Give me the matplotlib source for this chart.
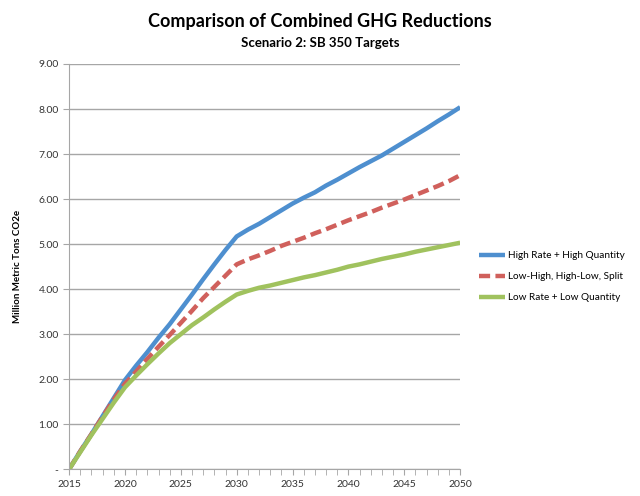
import matplotlib.pyplot as plt
import numpy as np

plt.rcParams['font.family'] = ['Lato', 'DejaVu Sans']

years = list(range(2015, 2051))

high_high = [0, 0.40, 0.78, 1.18, 1.58, 1.98, 2.30, 2.60, 2.92, 3.22, 3.55, 3.88,
             4.22, 4.55, 4.87, 5.17, 5.32, 5.45, 5.60, 5.75, 5.90, 6.03, 6.15,
             6.30, 6.43, 6.57, 6.71, 6.84, 6.97, 7.12, 7.27, 7.42, 7.57, 7.73,
             7.88, 8.04]
split = [0, 0.40, 0.78, 1.17, 1.55, 1.90, 2.17, 2.45, 2.72, 2.98, 3.25, 3.52,
         3.80, 4.05, 4.30, 4.55, 4.66, 4.75, 4.85, 4.96, 5.05, 5.14, 5.24,
         5.33, 5.43, 5.53, 5.62, 5.71, 5.81, 5.90, 5.99, 6.09, 6.19, 6.29,
         6.40, 6.53]
low_low = [0, 0.38, 0.76, 1.12, 1.48, 1.82, 2.08, 2.33, 2.57, 2.80, 3.00, 3.20,
           3.37, 3.55, 3.72, 3.88, 3.96, 4.03, 4.08, 4.14, 4.20, 4.26, 4.31,
           4.37, 4.43, 4.50, 4.55, 4.61, 4.67, 4.72, 4.77, 4.83, 4.88, 4.93,
           4.98, 5.03]

labels = ['High Rate + High Quantity', 'Low-High, High-Low, Split',
          'Low Rate + Low Quantity']
yticks = [0, 1, 2, 3, 4, 5, 6, 7, 8, 9]
ytick_labels = ['-'] + ['%.2f' % v for v in yticks[1:]]

fig = plt.figure(figsize=(6.4, 4.96), dpi=100)
ax = fig.add_axes([0.108, 0.054, 0.611, 0.817])

ax.plot(years, high_high, color='#4E8FCF', lw=3.2, label=labels[0], solid_capstyle='butt')
ax.plot(years, split, color='#D0605C', lw=3.2, ls=(0, (2.5, 1.2)), label=labels[1])
ax.plot(years, low_low, color='#A0C25E', lw=3.2, label=labels[2], solid_capstyle='butt')

ax.set_xlim(2015, 2050)
ax.set_ylim(0, 9)
ax.set_yticks(yticks)
ax.set_yticklabels(ytick_labels)
ax.set_xticks(range(2015, 2051, 5))
ax.set_xticks(years, minor=True)
ax.yaxis.grid(True, color='#A6A6A6', lw=1)
ax.set_axisbelow(True)

for s in ['top', 'right']:
    ax.spines[s].set_visible(False)
for s in ['left', 'bottom']:
    ax.spines[s].set_color('#A6A6A6')
ax.tick_params(axis='both', labelsize=7.5, colors='#333333', length=4, color='#A6A6A6')
ax.tick_params(axis='x', which='minor', length=4, color='#A6A6A6')

ax.set_ylabel('Million Metric Tons CO2e', fontsize=7, fontweight='bold', labelpad=12)

fig.text(0.5, 0.945, 'Comparison of Combined GHG Reductions', ha='center',
         fontsize=13, fontweight='bold')
fig.text(0.5, 0.905, 'Scenario 2: SB 350 Targets', ha='center',
         fontsize=9.5, fontweight='bold')

ax.legend(loc='center left', bbox_to_anchor=(1.03, 0.475), frameon=False,
          fontsize=7.2, handlelength=2.6, labelspacing=1.2, handletextpad=0.3,
          borderpad=0.2)

fig.savefig('out.png', dpi=100)
